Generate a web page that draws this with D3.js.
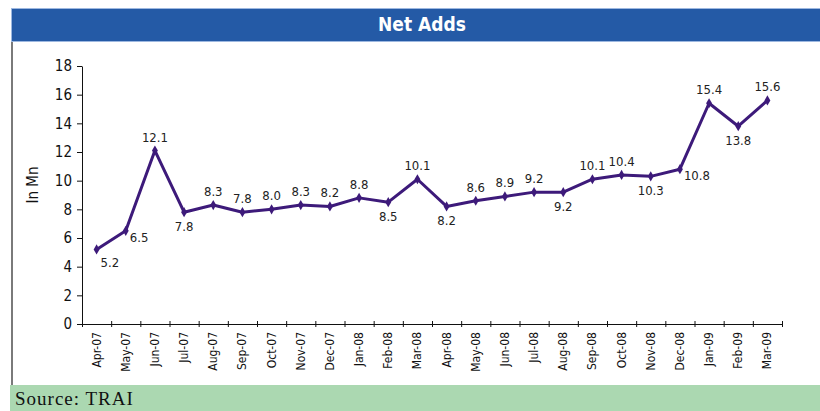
<!DOCTYPE html>
<html lang="en">
<head>
  <meta charset="UTF-8" />
  <title>Net Adds</title>
  <script src="https://d3js.org/d3.v7.min.js"></script>
  <style>
    body { margin: 0; background: #fff; }
    .narrow { font-family: "Liberation Sans Narrow", "DejaVu Sans Condensed", sans-serif; }
  </style>
</head>
<body>
<script>
const WIDTH = 820, HEIGHT = 411;

// data
const months = ["Apr-07","May-07","Jun-07","Jul-07","Aug-07","Sep-07","Oct-07","Nov-07","Dec-07",
  "Jan-08","Feb-08","Mar-08","Apr-08","May-08","Jun-08","Jul-08","Aug-08","Sep-08","Oct-08",
  "Nov-08","Dec-08","Jan-09","Feb-09","Mar-09"];
const netAdds = [5.2,6.5,12.1,7.8,8.3,7.8,8.0,8.3,8.2,8.8,8.5,10.1,8.2,8.6,8.9,9.2,9.2,10.1,10.4,
  10.3,10.8,15.4,13.8,15.6];
// where each value label sits relative to its point
const labelSide = ["belowRight","right","above","below","above","above","above","above","above",
  "above","below","above","below","above","above","above","below","above","above",
  "below","right","above","below","above"];
const yTicks = [0,2,4,6,8,10,12,14,16,18];

const svg = d3.select("body").append("svg")
    .attr("width", WIDTH)
    .attr("height", HEIGHT);

// title bar
svg.append("rect")
    .attr("x", 11.5).attr("y", 8.5)
    .attr("width", 810).attr("height", 33)
    .attr("fill", "#245AA6")
    .attr("stroke", "#9DB8E0").attr("stroke-width", 1);
svg.append("text")
    .attr("class", "narrow")
    .attr("x", 422).attr("y", 31)
    .attr("text-anchor", "middle")
    .attr("font-size", 19).attr("font-weight", "bold")
    .attr("fill", "#fff")
    .text("Net Adds");

// left frame line
svg.append("line")
    .attr("x1", 12).attr("x2", 12)
    .attr("y1", 42).attr("y2", 386)
    .attr("stroke", "#7a7a7a").attr("stroke-width", 2);

// source band
svg.append("rect")
    .attr("x", 10).attr("y", 385)
    .attr("width", 810).attr("height", 26)
    .attr("fill", "#ABD8B1");
svg.append("text")
    .attr("x", 15).attr("y", 405)
    .attr("font-family", "Liberation Serif, serif")
    .attr("font-size", 19)
    .attr("letter-spacing", 1)
    .attr("fill", "#111")
    .text("Source: TRAI");

// scales
const x = d3.scaleBand().domain(months).range([82, 782]).padding(0);
const edges = d3.scaleLinear().domain([0, months.length]).range([82, 782]);
const y = d3.scaleLinear().domain([0, 18]).range([324, 66]);

// y axis
svg.append("g")
    .attr("transform", "translate(82,0)")
    .call(d3.axisLeft(y).tickValues(yTicks).tickSize(5).tickPadding(5).tickSizeOuter(0))
    .call(g => g.selectAll("text")
        .attr("class", "narrow")
        .attr("font-size", 15)
        .attr("fill", "#111"))
    .call(g => g.selectAll("line, path").attr("stroke", "#111"));

svg.append("text")
    .attr("class", "narrow")
    .attr("transform", "translate(38,185) rotate(-90)")
    .attr("text-anchor", "middle")
    .attr("font-size", 15)
    .attr("fill", "#111")
    .text("In Mn");

// x axis: ticks on the band edges, crossing the line
svg.append("g")
    .attr("transform", "translate(0,324)")
    .call(d3.axisBottom(edges).ticks(months.length).tickSize(3).tickFormat("").tickSizeOuter(0))
    .call(g => g.selectAll(".tick line").attr("y1", -3))
    .call(g => g.selectAll("line, path").attr("stroke", "#111"));

svg.append("g")
    .selectAll("text")
    .data(months)
    .join("text")
        .attr("class", "narrow")
        .attr("transform", d => `translate(${x(d) + x.bandwidth() / 2 + 4},332) rotate(-90)`)
        .attr("text-anchor", "end")
        .attr("font-size", 12)
        .attr("fill", "#111")
        .text(d => d);

// line
const line = d3.line()
    .x((d, i) => x(months[i]) + x.bandwidth() / 2)
    .y(d => y(d));

svg.append("path")
    .datum(netAdds)
    .attr("fill", "none")
    .attr("stroke", "#3D1A7A")
    .attr("stroke-width", 3)
    .attr("stroke-linejoin", "round")
    .attr("d", line);

svg.append("g")
    .selectAll("path")
    .data(netAdds)
    .join("path")
        .attr("transform", (d, i) => `translate(${x(months[i]) + x.bandwidth() / 2},${y(d)})`)
        .attr("d", d3.symbol(d3.symbolDiamond, 30))
        .attr("fill", "#3D1A7A");

// value labels
const offsets = {
  above: [0, -9, "middle"],
  below: [0, 19, "middle"],
  right: [4, 11, "start"],
  belowRight: [4, 18, "start"]
};
svg.append("g")
    .selectAll("text")
    .data(netAdds)
    .join("text")
        .attr("font-family", "DejaVu Sans Condensed, sans-serif")
        .attr("font-size", 13)
        .attr("fill", "#222")
        .attr("x", (d, i) => x(months[i]) + x.bandwidth() / 2 + offsets[labelSide[i]][0])
        .attr("y", d => y(d))
        .attr("dy", (d, i) => offsets[labelSide[i]][1])
        .attr("text-anchor", (d, i) => offsets[labelSide[i]][2])
        .text(d => d.toFixed(1));
</script>
</body>
</html>
